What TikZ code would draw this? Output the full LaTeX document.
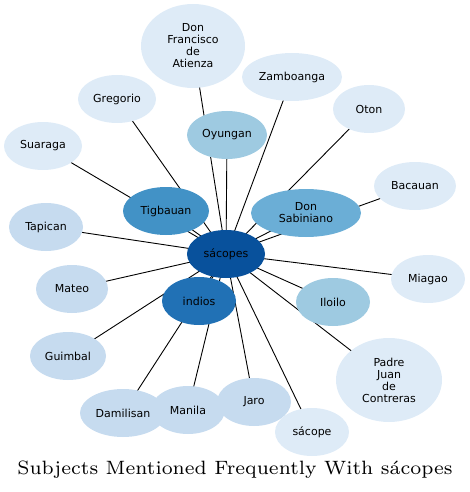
\documentclass[tikz,border=0pt]{standalone}
\usepackage{fontspec}
\newfontfamily\labelfont{DejaVu Sans}
\newfontfamily\titlefont{lmroman7-regular.otf}
\usetikzlibrary{shapes.geometric,backgrounds}
\definecolor{blueA}{HTML}{DEEBF7}
\definecolor{blueB}{HTML}{C6DBEF}
\definecolor{blueC}{HTML}{9ECAE1}
\definecolor{blueD}{HTML}{6BAED6}
\definecolor{blueE}{HTML}{4292C6}
\definecolor{blueF}{HTML}{2171B5}
\definecolor{blueG}{HTML}{08519C}
\tikzset{subj/.style={ellipse,draw=none,inner sep=0pt,align=center,font=\labelfont\fontsize{11}{12}\selectfont,minimum width=74pt,minimum height=48pt}, link/.style={draw=black,line width=0.9pt}}

\begin{document}
\begin{tikzpicture}[x=1pt,y=-1pt]
\useasboundingbox (0,0) rectangle (470,492);
\node[subj,fill=blueG,minimum width=78pt] (hub) at (226,254) {sácopes};
\node[subj,fill=blueA,minimum width=104pt,minimum height=84pt] (atienza) at (193,46) {Don\\Francisco\\de\\Atienza};
\node[subj,fill=blueA,minimum width=100pt] (zamboanga) at (292,77) {Zamboanga};
\node[subj,fill=blueA,minimum width=72pt] (oton) at (369,109) {Oton};
\node[subj,fill=blueA,minimum width=78pt] (gregorio) at (117,99) {Gregorio};
\node[subj,fill=blueC,minimum width=80pt] (oyungan) at (227,135) {Oyungan};
\node[subj,fill=blueA,minimum width=78pt] (suaraga) at (43,146) {Suaraga};
\node[subj,fill=blueA,minimum width=82pt] (bacauan) at (415,186) {Bacauan};
\node[subj,fill=blueE,minimum width=86pt] (tigbauan) at (166,211) {Tigbauan};
\node[subj,fill=blueD,minimum width=110pt] (sabiniano) at (306,213) {Don\\Sabiniano};
\node[subj,fill=blueB] (tapican) at (46,227) {Tapican};
\node[subj,fill=blueB,minimum width=72pt] (mateo) at (72,289) {Mateo};
\node[subj,fill=blueA] (miagao) at (428,279) {Miagao};
\node[subj,fill=blueF] (indios) at (199,301) {indios};
\node[subj,fill=blueC] (iloilo) at (333,302) {Iloilo};
\node[subj,fill=blueB,minimum width=76pt] (guimbal) at (68,356) {Guimbal};
\node[subj,fill=blueA,minimum width=106pt,minimum height=84pt] (contreras) at (389,380) {Padre\\Juan\\de\\Contreras};
\node[subj,fill=blueB,minimum width=86pt] (damilisan) at (123,413) {Damilisan};
\node[subj,fill=blueB] (manila) at (188,410) {Manila};
\node[subj,fill=blueB] (jaro) at (254,402) {Jaro};
\node[subj,fill=blueA] (sacope) at (312,432) {sácope};
% edges go behind the ellipses
\begin{pgfonlayer}{background}
\foreach \n in {atienza,zamboanga,oton,gregorio,oyungan,suaraga,bacauan,tigbauan,sabiniano,tapican,mateo,miagao,indios,iloilo,guimbal,contreras,damilisan,manila,jaro,sacope}
  \draw[link] (hub.center)--(\n.center);
\end{pgfonlayer}
\node[font=\titlefont\fontsize{19.3}{23}\selectfont] (title) at (235,470) {Subjects Mentioned Frequently With sácopes};
\end{tikzpicture}
\end{document}
